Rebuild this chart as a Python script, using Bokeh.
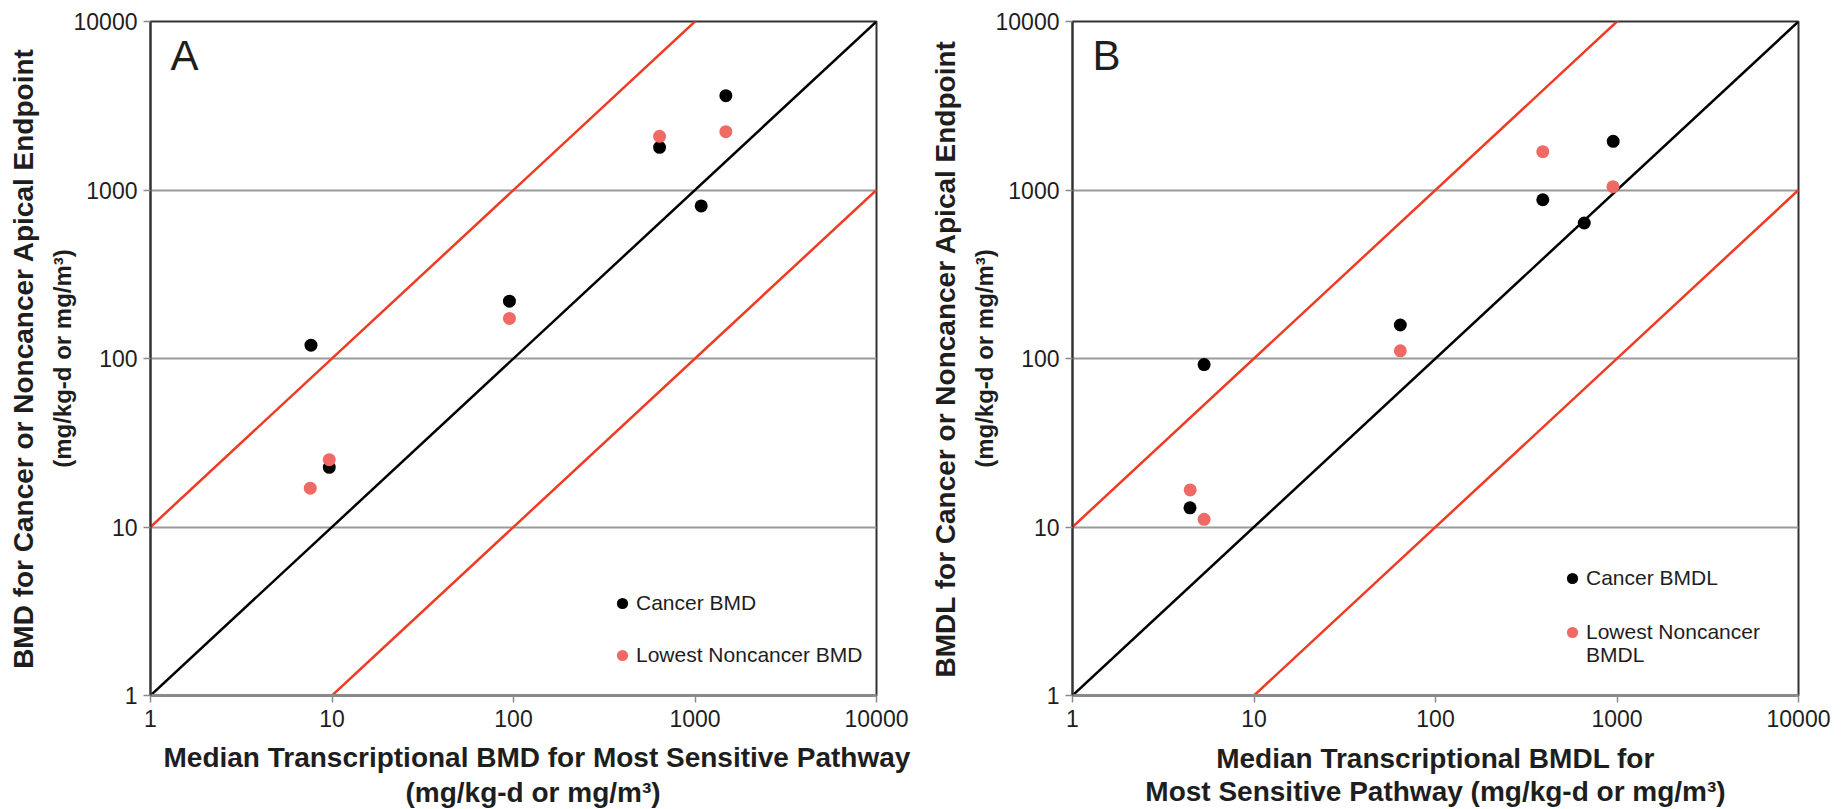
from bokeh.plotting import figure
from bokeh.layouts import row
from bokeh.models import (FixedTicker, BasicTickFormatter, Legend, LegendItem,
                          Label, Range1d, Title)
from bokeh.embed import file_html
from bokeh.resources import INLINE

# ---------------- data ----------------
ticks = [1, 10, 100, 1000, 10000]
tick_labels = ["1", "10", "100", "1000", "10000"]

ref_x = [1, 10000]          # identity line y = x
band_factors = [10, 0.1]    # red lines y = 10x and y = x/10

a_cancer_x = [7.66, 9.66, 95, 638, 1082, 1479]
a_cancer_y = [120, 22.6, 219, 1792, 804, 3630]
a_non_x = [7.59, 9.66, 95, 638, 1479]
a_non_y = [17.0, 25.1, 173, 2083, 2218]

b_cancer_x = [5.31, 4.44, 64, 390, 660, 953]
b_cancer_y = [92, 13.0, 158, 875, 637, 1945]
b_non_x = [4.45, 5.31, 64, 390, 950]
b_non_y = [16.6, 11.1, 111, 1688, 1046]

FONT = "Liberation Sans"
BLACK = "#000000"
SALMON = "#f06a65"
RED = "#f03a22"
TXT = "#1e1e1e"

FRAME_H = 674
HEIGHT = 809


def legend_box(items, loc, spacing):
    return Legend(items=items, location=loc, orientation="vertical",
                  glyph_width=28, glyph_height=28, label_standoff=-8,
                  label_text_font=FONT, label_text_font_size="21px",
                  label_text_color=TXT, spacing=spacing, padding=0,
                  margin=0, border_line_color=None, background_fill_alpha=0)


def make_panel(letter, ylines, xlines, x_title_mode, cx, cy, nx, ny,
               leg_labels, leg_loc, leg_spacing, width, right_border):
    p = figure(width=width, height=HEIGHT, x_axis_type="log", y_axis_type="log",
               x_range=Range1d(1, 10000), y_range=Range1d(1, 10000),
               output_backend="svg", toolbar_location=None,
               min_border_left=150, min_border_right=right_border,
               min_border_top=21, min_border_bottom=HEIGHT - 21 - FRAME_H)
    p.outline_line_color = "#333333"
    p.outline_line_width = 2
    p.background_fill_color = "white"
    p.border_fill_color = "white"

    p.xgrid.visible = False
    p.ygrid.ticker = FixedTicker(ticks=ticks, minor_ticks=[])
    p.ygrid.grid_line_color = "#9a9a9a"
    p.ygrid.grid_line_width = 2

    overrides = {t: l for t, l in zip(ticks, tick_labels)}
    for ax in (p.xaxis[0], p.yaxis[0]):
        ax.ticker = FixedTicker(ticks=ticks, minor_ticks=[])
        ax.formatter = BasicTickFormatter(use_scientific=False)
        ax.major_label_overrides = overrides
        ax.major_tick_out = 7
        ax.major_tick_in = 0
        ax.major_tick_line_color = "#8a8a8a"
        ax.major_tick_line_width = 1.5
        ax.minor_tick_line_color = None
        ax.major_label_text_font = FONT
        ax.major_label_text_font_size = "23px"
        ax.major_label_text_color = TXT
        ax.axis_label_text_font = FONT
        ax.axis_label_text_font_style = "bold"
        ax.axis_label_text_color = TXT

    # ---- y-axis title: line 2 as axis label, line 1 as an outer title
    ya = p.yaxis[0]
    ya.axis_line_color = "#333333"
    ya.axis_line_width = 2
    ya.major_label_standoff = 6
    ya.axis_label = ylines[1]
    ya.axis_label_text_font_size = "24px"
    ya.axis_label_standoff = -5
    p.add_layout(Title(text=ylines[0], align="center", vertical_align="middle",
                       standoff=12, text_font=FONT, text_font_size="28px",
                       text_font_style="bold", text_color=TXT), "left")

    # ---- x-axis title
    xa = p.xaxis[0]
    xa.axis_line_color = "#8a8a8a"
    xa.axis_line_width = 3
    xa.major_label_standoff = 7
    if x_title_mode == "axis":
        xa.axis_label = "\n".join(xlines)
        xa.axis_label_text_font_size = "28px"
        xa.axis_label_text_line_height = 1.07
        xa.axis_label_standoff = 13
    else:
        offsets = x_title_mode
        for txt, off, so in zip(xlines, offsets, [22, -17]):
            p.add_layout(Title(text=txt, align="left", offset=off,
                               vertical_align="middle", standoff=so,
                               text_font=FONT, text_font_size="28px",
                               text_font_style="bold", text_color=TXT), "below")

    # reference lines
    p.line(ref_x, ref_x, line_color=BLACK, line_width=2.5)
    for f in band_factors:
        p.line(ref_x, [v * f for v in ref_x], line_color=RED, line_width=2.5)

    r1 = p.scatter(cx, cy, size=13, fill_color=BLACK, line_color=None)
    r2 = p.scatter(nx, ny, size=13, fill_color=SALMON, line_color=None)

    if len(leg_labels) == 2:
        p.add_layout(legend_box([LegendItem(label=leg_labels[0], renderers=[r1]),
                                 LegendItem(label=leg_labels[1], renderers=[r2])],
                                leg_loc[0], leg_spacing))
    else:
        # wrapped second label: continuation line set as a glyph-less item
        p.add_layout(legend_box([LegendItem(label=leg_labels[0], renderers=[r1]),
                                 LegendItem(label=leg_labels[1], renderers=[r2])],
                                leg_loc[0], leg_spacing))
        p.add_layout(legend_box([LegendItem(label=leg_labels[2], renderers=[])],
                                leg_loc[1], 0))

    # panel letter (frame-relative screen units)
    p.add_layout(Label(x=20, y=FRAME_H - 34, x_units="screen", y_units="screen",
                       text=letter, text_font=FONT, text_font_size="42px",
                       text_color=TXT, text_align="left", text_baseline="middle"))
    return p


pA = make_panel("A",
                ["BMD for Cancer or Noncancer Apical Endpoint", "(mg/kg-d or mg/m³)"],
                ["Median Transcriptional BMD for Most Sensitive Pathway", "(mg/kg-d or mg/m³)"],
                [13, 255],
                a_cancer_x, a_cancer_y, a_non_x, a_non_y,
                ["Cancer BMD", "Lowest Noncancer BMD"], [(458, 26)], 24, 922, 46)

pB = make_panel("B",
                ["BMDL for Cancer or Noncancer Apical Endpoint", "(mg/kg-d or mg/m³)"],
                ["Median Transcriptional BMDL for", "Most Sensitive Pathway (mg/kg-d or mg/m³)"],
                "axis",
                b_cancer_x, b_cancer_y, b_non_x, b_non_y,
                ["Cancer BMDL", "Lowest Noncancer", "BMDL"], [(486, 49), (486, 26)], 26,
                916, 40)

layout = row(pA, pB)
open("out.html", "w").write(file_html(layout, INLINE))
